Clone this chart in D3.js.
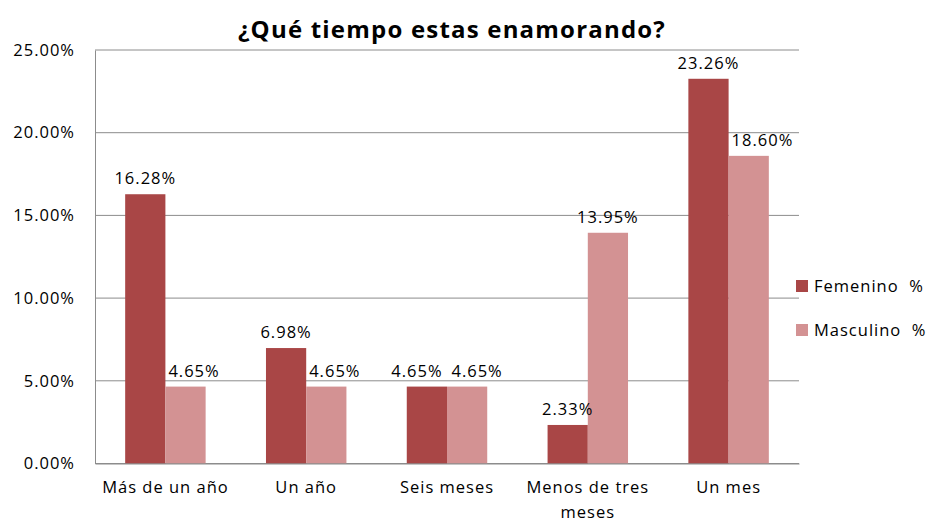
<!DOCTYPE html>
<html>
<head>
<meta charset="utf-8">
<script src="https://cdn.jsdelivr.net/npm/d3@7"></script>
<style>
  body { margin: 0; background: #fff; }
  text { font-family: "Open Sans", Lato, sans-serif; fill: #000; letter-spacing: 1px; }
</style>
</head>
<body>
<div id="chart"></div>
<script>
// chart data
const categories = ["Más de un año", "Un año", "Seis meses", "Menos de tres meses", "Un mes"];
const seriesNames = ["Femenino  %", "Masculino  %"];
const femenino = [16.28, 6.98, 4.65, 2.33, 23.26];
const masculino = [4.65, 4.65, 4.65, 13.95, 18.60];
const yTicks = [0, 5, 10, 15, 20, 25];

const width = 927, height = 525;
const margin = {top: 50, right: 128, bottom: 61.5, left: 95};
const colors = ["#a94646", "#d39293"];
const fontSize = "16.5px";

const svg = d3.select("#chart").append("svg")
  .attr("width", width).attr("height", height);

const x = d3.scaleBand().domain(categories)
  .range([margin.left, width - margin.right]);
const x1 = d3.scaleBand().domain([0, 1])
  .range([0, x.bandwidth()]).paddingOuter(0.75).paddingInner(0);
const y = d3.scaleLinear().domain([0, 25])
  .range([height - margin.bottom, margin.top]);

// gridlines
svg.append("g")
  .selectAll("line").data(yTicks).join("line")
    .attr("x1", margin.left).attr("x2", width - margin.right)
    .attr("y1", d => y(d)).attr("y2", d => y(d))
    .attr("stroke", "#8c8c8c").attr("stroke-width", 1);

// y axis
svg.append("g")
  .attr("transform", `translate(${margin.left},0)`)
  .call(d3.axisLeft(y).tickValues(yTicks).tickFormat(d => d.toFixed(2) + "%").tickSize(0).tickPadding(20))
  .call(g => g.select(".domain").attr("stroke", "#8c8c8c"))
  .call(g => g.selectAll("text").attr("font-size", fontSize).attr("font-family", null));

// bars
const rows = categories.map((c, i) => ({cat: c, vals: [femenino[i], masculino[i]]}));
const groups = svg.append("g").selectAll("g").data(rows).join("g")
  .attr("transform", d => `translate(${x(d.cat)},0)`);

groups.selectAll("rect").data(d => d.vals).join("rect")
  .attr("x", (d, i) => x1(i))
  .attr("width", x1.bandwidth())
  .attr("y", d => y(d))
  .attr("height", d => y(0) - y(d))
  .attr("fill", (d, i) => colors[i]);

// data labels: nudge apart when they'd collide like the spreadsheet does
groups.each(function(row) {
  const [a, b] = row.vals;
  const g = d3.select(this);
  const lbl = (i, v) => g.append("text")
    .attr("font-size", fontSize)
    .attr("y", y(v) - 10)
    .text(v.toFixed(2) + "%");
  if (Math.abs(y(a) - y(b)) < 20) {
    lbl(0, a).attr("x", x1(0) + x1.bandwidth() / 2 - 10).attr("text-anchor", "middle");
    lbl(1, b).attr("x", x1(1) + x1.bandwidth() / 2 + 10).attr("text-anchor", "middle");
  } else if (a > b) {
    lbl(0, a).attr("x", x1(0) + x1.bandwidth() / 2).attr("text-anchor", "middle");
    lbl(1, b).attr("x", x1(1) + 3).attr("text-anchor", "start");
  } else {
    lbl(0, a).attr("x", x1(0) + x1.bandwidth() / 2).attr("text-anchor", "middle");
    lbl(1, b).attr("x", x1(1) + x1.bandwidth() / 2).attr("text-anchor", "middle");
  }
});

// x axis
svg.append("g")
  .attr("transform", `translate(0,${y(0)})`)
  .call(d3.axisBottom(x).tickSize(0).tickPadding(18))
  .call(g => g.select(".domain").attr("stroke", "#8c8c8c"))
  .call(g => g.selectAll("text").attr("font-size", fontSize).attr("font-family", null)
    .each(function(d) {
      if (d === "Menos de tres meses") {
        const t = d3.select(this);
        t.text(null);
        t.append("tspan").attr("x", 0).text("Menos de tres");
        t.append("tspan").attr("x", 0).attr("dy", "1.5em").text("meses");
      }
    }));

// title
svg.append("text")
  .attr("x", 452).attr("y", 38)
  .attr("text-anchor", "middle")
  .attr("font-size", "24px").attr("font-weight", "bold")
  .style("letter-spacing", "1.2px")
  .text("¿Qué tiempo estas enamorando?");

// legend
const legend = svg.append("g").attr("transform", "translate(796,280)");
const items = legend.selectAll("g").data(seriesNames).join("g")
  .attr("transform", (d, i) => `translate(0,${i * 44})`);
items.append("rect").attr("width", 12).attr("height", 12)
  .attr("fill", (d, i) => colors[i]);
items.append("text").attr("x", 18).attr("y", 12)
  .attr("font-size", fontSize)
  .style("white-space", "pre")
  .text(d => d);
</script>
</body>
</html>
